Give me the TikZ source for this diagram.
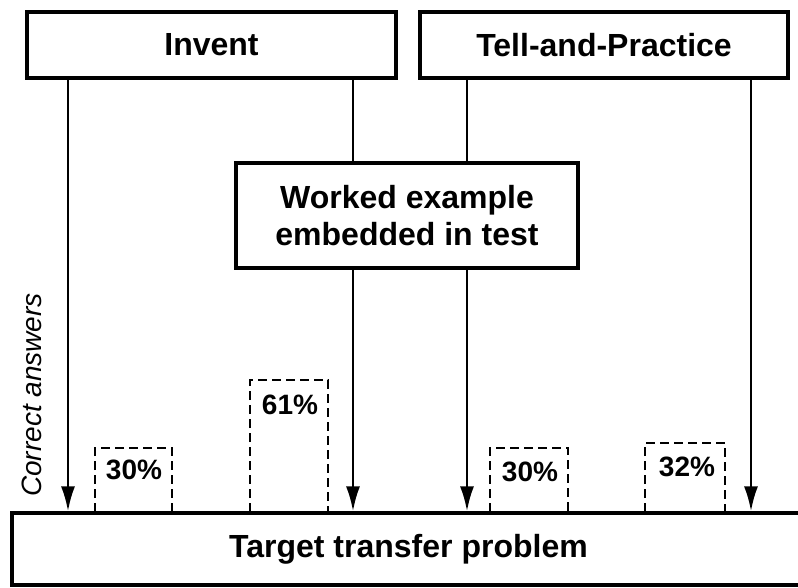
\documentclass[tikz,border=0pt]{standalone}
\usepackage{fontspec}
\setmainfont{Liberation Sans}
\usetikzlibrary{arrows.meta}
\begin{document}
\begin{tikzpicture}[x=1pt, y=-1pt, >={Latex[length=25pt,width=14pt]},
  box/.style={draw, line width=3.2pt, inner sep=0pt, font=\fontsize{32}{37}\selectfont\bfseries, align=center},
  arr/.style={->, line width=2.6pt},
  bar/.style={line width=2.6pt, dash pattern=on 9pt off 5pt},
  pct/.style={font=\fontsize{28}{33}\selectfont\bfseries}]
  \useasboundingbox (0,0) rectangle (798,588);
  \node[box, minimum width=369pt, minimum height=66pt] (invent) at (211.5,45) {Invent};
  \node[box, minimum width=368pt, minimum height=66pt] (tell) at (604,45) {Tell-and-Practice};
  \node[box, minimum width=342pt, minimum height=105pt] (worked) at (407,215.5) {Worked example\\embedded in test};
  \node[box, minimum width=793pt, minimum height=72pt] (target) at (408.5,549) {Target transfer problem};
  \coordinate (c1) at (68,0);
  \coordinate (c2) at (353,0);
  \coordinate (c3) at (467,0);
  \coordinate (c4) at (751,0);
  \draw[arr] (invent.south -| c1) -- (target.north -| c1);
  \draw[line width=2.6pt] (invent.south -| c2) -- (worked.north -| c2);
  \draw[arr] (worked.south -| c2) -- (target.north -| c2);
  \draw[line width=2.6pt] (tell.south -| c3) -- (worked.north -| c3);
  \draw[arr] (worked.south -| c3) -- (target.north -| c3);
  \draw[arr] (tell.south -| c4) -- (target.north -| c4);
  % dashed bars
  \draw[bar] (95,512) |- (172,448) -- (172,512);
  \draw[bar] (250,512) |- (328,380) -- (328,512);
  \draw[bar] (490,512) |- (568,448) -- (568,512);
  \draw[bar] (645,512) |- (725,443) -- (725,512);
  \node[pct] (p1) at (134,470) {30\%};
  \node[pct] (p2) at (290,405) {61\%};
  \node[pct] (p3) at (530,472) {30\%};
  \node[pct] (p4) at (687,467) {32\%};
  \node[rotate=90, font=\fontsize{28}{33}\selectfont\itshape] (ca) at (32,395) {Correct answers};
\end{tikzpicture}
\end{document}
